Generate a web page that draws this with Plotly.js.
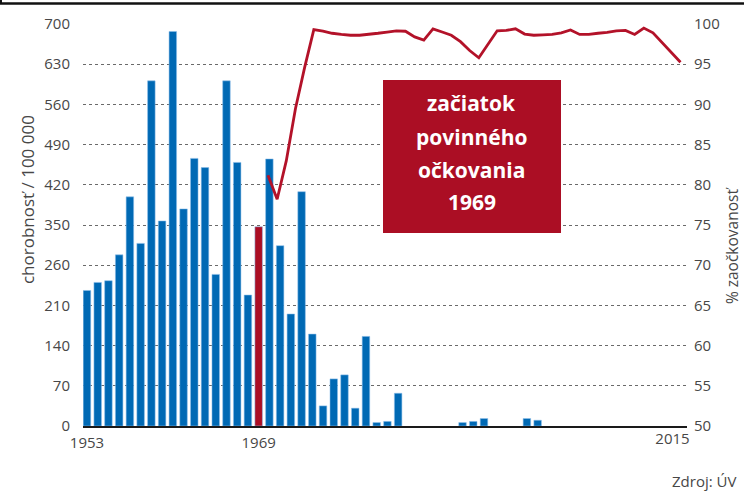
<!DOCTYPE html>
<html>
<head>
<meta charset="utf-8">
<script src="https://cdn.plot.ly/plotly-3.0.1.min.js"></script>
<style>html,body{margin:0;padding:0;background:#fff;}#chart{width:744px;height:492px;}</style>
</head>
<body>
<div id="chart"></div>
<script>
// Incidence (chorobnosť / 100 000) by year
const barYears = [1953,1954,1955,1956,1957,1958,1959,1960,1961,1962,1963,1964,1965,1966,1967,1968,1969,
                  1970,1971,1972,1973,1974,1975,1976,1977,1978,1979,1980,1981,1982,
                  1988,1989,1990,1994,1995];
const barValues = [236,250,253,298,399,318,601,357,687,378,466,450,264,601,459,228,347,
                   465,314,195,408,160,35,82,89,31,156,6,8,57,
                   6,8,13,13,10];
const highlightYear = 1969;

// Vaccination coverage (% zaočkovanosť)
const lineYears = [1970,1971,1972,1973,1974,1975,1976,1977,1978,1979,1980,1981,1982,1983,1984,1985,1986,1987,1988,1989,
                   1990,1991,1992,1993,1994,1995,1996,1997,1998,1999,2000,2001,2002,2003,2004,2005,2006,2007,2008,2009,
                   2010,2011,2012,2013,2014,2015];
const lineValues = [81.2,78.2,83.0,89.5,94.6,99.3,99.1,98.85,98.7,98.6,98.6,98.7,98.85,99.0,99.15,99.1,98.4,98.0,99.4,99.0,
                    98.6,97.8,96.7,95.8,97.5,99.15,99.2,99.4,98.75,98.6,98.65,98.7,98.9,99.25,98.7,98.7,98.85,98.95,99.15,99.2,
                    98.7,99.5,98.9,97.65,96.45,95.25];

// Axis ticks
const leftTickVals = [0,70,140,210,280,350,420,490,560,630,700];
const leftTickText = ["0","70","140","210","260","350","420","490","560","630","700"];
const rightTickVals = [50,55,60,65,70,75,80,85,90,95,100];
const bottomTickYears = [1953,1969];
const lineTickYears = [2015];

const boxLines = ["začiatok","povinného","očkovania","1969"];

const BLUE = '#0069b4', RED = '#ab0e24', LINE_RED = '#b31229', TXT = '#474747';
const FONT = '"Open Sans", "Noto Sans", sans-serif';

const barColors = barYears.map(y => y === highlightYear ? RED : BLUE);

const traces = [
  {
    type: 'bar', x: barYears, y: barValues, width: 0.7,
    marker: {color: barColors, line: {color: 'rgba(140,190,235,0.9)', width: 0.6}},
    xaxis: 'x', yaxis: 'y', hoverinfo: 'x+y', showlegend: false
  },
  {
    type: 'scatter', mode: 'lines', x: lineYears, y: lineValues,
    line: {color: LINE_RED, width: 2.8},
    xaxis: 'x2', yaxis: 'y2', showlegend: false
  }
];

const boxYs = [0.8035, 0.7177, 0.6368, 0.556];
const annotations = boxLines.map((t, i) => ({
  xref: 'paper', yref: 'paper', x: 0.644, y: boxYs[i], xanchor: 'center', yanchor: 'middle',
  text: '<b>' + t + '</b>', showarrow: false, font: {family: FONT, size: 21, color: '#ffffff'}
}));
annotations.push({
  xref: 'paper', yref: 'paper', x: -0.0927, y: 0.562, textangle: -90, xanchor: 'center', yanchor: 'middle',
  text: 'chorobnosť / 100 000', showarrow: false, font: {family: FONT, size: 17, color: TXT}
});
annotations.push({
  xref: 'paper', yref: 'paper', x: 1.0745, y: 0.45, textangle: -90, xanchor: 'center', yanchor: 'middle',
  text: '% zaočkovanosť', showarrow: false, font: {family: FONT, size: 15.5, color: TXT}
});
annotations.push({
  xref: 'paper', yref: 'paper', x: 0.9719, y: -0.137, xanchor: 'left', yanchor: 'middle',
  text: 'Zdroj: ÚV', showarrow: false, font: {family: FONT, size: 15, color: TXT}
});

const layout = {
  width: 744, height: 492,
  margin: {l: 83, r: 57, t: 24, b: 66, pad: 0},
  paper_bgcolor: '#ffffff', plot_bgcolor: '#ffffff',
  font: {family: FONT, size: 15, color: TXT},
  showlegend: false, bargap: 0,
  xaxis: {
    range: [1952.63, 2008.92], tickmode: 'array', tickvals: bottomTickYears, ticktext: bottomTickYears.map(String),
    showgrid: false, zeroline: false, showline: true, linecolor: '#1a1a1a', linewidth: 2,
    ticks: '', ticklabelstandoff: 2, tickfont: {family: FONT, size: 15, color: TXT}, fixedrange: true
  },
  xaxis2: {
    overlaying: 'x', anchor: 'y', side: 'bottom', range: [1949.82, 2015.71],
    tickmode: 'array', tickvals: lineTickYears, ticktext: lineTickYears.map(String),
    showgrid: false, zeroline: false, showline: false, ticks: '', ticklabelstandoff: 2, ticklabelshift: -8,
    tickfont: {family: FONT, size: 15, color: TXT}, fixedrange: true
  },
  yaxis: {
    range: [0, 700], tickmode: 'array', tickvals: leftTickVals, ticktext: leftTickText,
    showgrid: true, gridcolor: '#6a6a6a', griddash: 'dot', gridwidth: 1,
    zeroline: false, showline: false, ticks: '', ticklabelstandoff: 12,
    tickfont: {family: FONT, size: 15, color: TXT}, fixedrange: true
  },
  yaxis2: {
    overlaying: 'y', side: 'right', anchor: 'x', range: [50, 100], tickmode: 'array', tickvals: rightTickVals,
    showgrid: false, zeroline: false, showline: false, ticks: '', ticklabelstandoff: 6,
    tickfont: {family: FONT, size: 15, color: TXT}, fixedrange: true
  },
  shapes: [
    {type: 'rect', xref: 'paper', yref: 'paper', x0: 0.4967, x1: 0.7914, y0: 0.4801, y1: 0.8607,
     fillcolor: RED, line: {width: 0}, layer: 'above'},
    {type: 'line', xref: 'paper', yref: 'paper', x0: -0.14, x1: 1.1, y0: 1.051, y1: 1.051,
     line: {color: '#111111', width: 2.5}},
    {type: 'line', xref: 'paper', yref: 'paper', x0: -0.1358, x1: -0.1358, y0: 1.051, y1: 1.07,
     line: {color: '#111111', width: 2}}
  ],
  annotations: annotations
};

Plotly.newPlot('chart', traces, layout, {displayModeBar: false, staticPlot: true});
</script>
</body>
</html>
